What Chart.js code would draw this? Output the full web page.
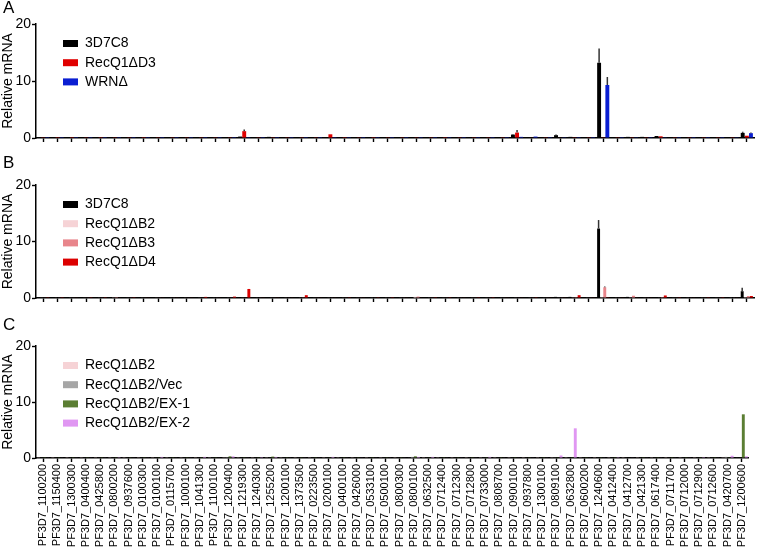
<!DOCTYPE html>
<html>
<head>
<meta charset="utf-8">
<script src="https://cdn.jsdelivr.net/npm/chart.js@4.4.1/dist/chart.umd.min.js"></script>
<style>
  html, body { margin: 0; padding: 0; background: #fff; }
  #wrap { position: relative; width: 757px; height: 553px; }
  canvas { position: absolute; left: 0; }
</style>
</head>
<body>
<div id="wrap">
  <canvas id="chartA" width="757" height="150" style="top:0"></canvas>
  <canvas id="chartB" width="757" height="160" style="top:150px"></canvas>
  <canvas id="chartC" width="757" height="243" style="top:310px"></canvas>
</div>
<script>
// genes on the x axis (shared by all three panels)
const genes = [
  "PF3D7_1100200", "PF3D7_1150400", "PF3D7_1300300", "PF3D7_0400400", "PF3D7_0425800",
  "PF3D7_0800200", "PF3D7_0937600", "PF3D7_0100300", "PF3D7_0100100", "PF3D7_0115700",
  "PF3D7_1000100", "PF3D7_1041300", "PF3D7_1100100", "PF3D7_1200400", "PF3D7_1219300",
  "PF3D7_1240300", "PF3D7_1255200", "PF3D7_1200100", "PF3D7_1373500", "PF3D7_0223500",
  "PF3D7_0200100", "PF3D7_0400100", "PF3D7_0426000", "PF3D7_0533100", "PF3D7_0500100",
  "PF3D7_0800300", "PF3D7_0800100", "PF3D7_0632500", "PF3D7_0712400", "PF3D7_0712300",
  "PF3D7_0712800", "PF3D7_0733000", "PF3D7_0808700", "PF3D7_0900100", "PF3D7_0937800",
  "PF3D7_1300100", "PF3D7_0809100", "PF3D7_0632800", "PF3D7_0600200", "PF3D7_1240600",
  "PF3D7_0412400", "PF3D7_0412700", "PF3D7_0421300", "PF3D7_0617400", "PF3D7_0711700",
  "PF3D7_0712000", "PF3D7_0712900", "PF3D7_0712600", "PF3D7_0420700", "PF3D7_1200600"
];
const yTicks = [0, 10, 20];

// Panel A
const a3D7C8 = [
  0.05, 0.05, 0.05, 0.05, 0.05, 0.05, 0.08, 0.05, 0.08, 0.05,
  0.08, 0.05, 0.08, 0.15, 0.25, 0.05, 0.2, 0.05, 0.08, 0.15,
  0.05, 0.05, 0.05, 0.15, 0.05, 0.05, 0.08, 0.15, 0.05, 0.05,
  0.05, 0.05, 0.05, 0.6, 0.1, 0.05, 0.5, 0.2, 0.05, 13.2,
  0.08, 0.2, 0.2, 0.35, 0.05, 0.05, 0.05, 0.05, 0.1, 0.9
];
const aRecQ1D3 = [
  0.05, 0.03, 0.03, 0.05, 0.03, 0.05, 0.05, 0.03, 0.05, 0.05,
  0.05, 0.05, 0.05, 0.05, 1.2, 0.05, 0.05, 0.05, 0.05, 0.05,
  0.65, 0.03, 0.05, 0.03, 0.05, 0.05, 0.05, 0.05, 0.03, 0.05,
  0.05, 0.05, 0.05, 0.95, 0.1, 0.05, 0.08, 0.05, 0.05, 0.05,
  0.05, 0.05, 0.05, 0.3, 0.05, 0.05, 0.05, 0.05, 0.05, 0.4
];
const aWRN = [
  0.03, 0.03, 0.03, 0.03, 0.03, 0.03, 0.03, 0.03, 0.03, 0.03,
  0.03, 0.03, 0.03, 0.03, 0.03, 0.03, 0.03, 0.03, 0.03, 0.03,
  0.03, 0.03, 0.03, 0.03, 0.03, 0.03, 0.03, 0.03, 0.03, 0.03,
  0.03, 0.03, 0.03, 0.2, 0.25, 0.03, 0.05, 0.03, 0.03, 9.3,
  0.03, 0.05, 0.03, 0.05, 0.03, 0.03, 0.03, 0.03, 0.05, 0.85
];
const aErr3D7C8 = [
  0, 0, 0, 0, 0, 0, 0, 0, 0, 0,
  0, 0, 0, 0, 0, 0, 0, 0, 0, 0,
  0, 0, 0, 0, 0, 0, 0, 0, 0, 0,
  0, 0, 0, 0.1, 0, 0, 0.1, 0, 0, 2.5,
  0, 0, 0, 0, 0, 0, 0, 0, 0, 0.2
];
const aErrRecQ1D3 = [
  0, 0, 0, 0, 0, 0, 0, 0, 0, 0,
  0, 0, 0, 0, 0.3, 0, 0, 0, 0, 0,
  0, 0, 0, 0, 0, 0, 0, 0, 0, 0,
  0, 0, 0, 0.45, 0, 0, 0, 0, 0, 0,
  0, 0, 0, 0, 0, 0, 0, 0, 0, 0
];
const aErrWRN = [
  0, 0, 0, 0, 0, 0, 0, 0, 0, 0,
  0, 0, 0, 0, 0, 0, 0, 0, 0, 0,
  0, 0, 0, 0, 0, 0, 0, 0, 0, 0,
  0, 0, 0, 0, 0, 0, 0, 0, 0, 1.4,
  0, 0, 0, 0, 0, 0, 0, 0, 0, 0.1
];

// Panel B
const b3D7C8 = [
  0.05, 0.05, 0.05, 0.05, 0.05, 0.05, 0.05, 0.05, 0.05, 0.05,
  0.05, 0.05, 0.05, 0.15, 0.05, 0.05, 0.05, 0.05, 0.05, 0.05,
  0.05, 0.05, 0.05, 0.05, 0.05, 0.05, 0.05, 0.05, 0.05, 0.05,
  0.05, 0.05, 0.05, 0.05, 0.05, 0.05, 0.2, 0.2, 0.05, 12.3,
  0.05, 0.2, 0.05, 0.05, 0.05, 0.1, 0.05, 0.05, 0.05, 1.2
];
const bRecQ1B2 = [
  0.1, 0.08, 0.1, 0.08, 0.1, 0.12, 0.08, 0.1, 0.1, 0.08,
  0.1, 0.1, 0.08, 0.1, 0.1, 0.08, 0.1, 0.1, 0.1, 0.08,
  0.1, 0.1, 0.08, 0.1, 0.1, 0.1, 0.2, 0.1, 0.08, 0.1,
  0.1, 0.08, 0.1, 0.1, 0.1, 0.08, 0.1, 0.12, 0.1, 0.15,
  0.1, 0.12, 0.1, 0.1, 0.08, 0.1, 0.1, 0.08, 0.1, 0.15
];
const bRecQ1B3 = [
  0.08, 0.1, 0.08, 0.1, 0.08, 0.15, 0.1, 0.08, 0.1, 0.1,
  0.08, 0.1, 0.1, 0.08, 0.1, 0.1, 0.08, 0.1, 0.12, 0.1,
  0.08, 0.1, 0.1, 0.08, 0.1, 0.1, 0.25, 0.1, 0.1, 0.08,
  0.1, 0.1, 0.08, 0.1, 0.1, 0.1, 0.1, 0.15, 0.1, 1.9,
  0.1, 0.4, 0.1, 0.15, 0.1, 0.08, 0.1, 0.1, 0.1, 0.35
];
const bRecQ1D4 = [
  0.05, 0.05, 0.08, 0.05, 0.05, 0.08, 0.05, 0.08, 0.08, 0.1,
  0.08, 0.2, 0.08, 0.25, 1.6, 0.08, 0.1, 0.08, 0.5, 0.08,
  0.08, 0.05, 0.08, 0.05, 0.05, 0.08, 0.08, 0.05, 0.05, 0.08,
  0.05, 0.05, 0.08, 0.08, 0.05, 0.08, 0.1, 0.5, 0.08, 0.05,
  0.08, 0.1, 0.08, 0.45, 0.05, 0.08, 0.05, 0.05, 0.08, 0.35
];
const bErr3D7C8 = [
  0, 0, 0, 0, 0, 0, 0, 0, 0, 0,
  0, 0, 0, 0, 0, 0, 0, 0, 0, 0,
  0, 0, 0, 0, 0, 0, 0, 0, 0, 0,
  0, 0, 0, 0, 0, 0, 0, 0, 0, 1.5,
  0, 0, 0, 0, 0, 0, 0, 0, 0, 0.6
];
const bErrRecQ1B3 = [
  0, 0, 0, 0, 0, 0, 0, 0, 0, 0,
  0, 0, 0, 0, 0, 0, 0, 0, 0, 0,
  0, 0, 0, 0, 0, 0, 0, 0, 0, 0,
  0, 0, 0, 0, 0, 0, 0, 0, 0, 0.15,
  0, 0, 0, 0, 0, 0, 0, 0, 0, 0
];

// Panel C
const cRecQ1B2 = [
  0.05, 0.05, 0.05, 0.05, 0.05, 0.05, 0.05, 0.05, 0.05, 0.05,
  0.05, 0.05, 0.05, 0.05, 0.05, 0.05, 0.05, 0.05, 0.05, 0.05,
  0.05, 0.05, 0.05, 0.05, 0.05, 0.05, 0.08, 0.05, 0.05, 0.05,
  0.05, 0.05, 0.05, 0.05, 0.05, 0.05, 0.05, 0.05, 0.05, 0.05,
  0.05, 0.05, 0.05, 0.05, 0.05, 0.05, 0.05, 0.05, 0.05, 0.08
];
const cVec = [
  0.08, 0.1, 0.08, 0.1, 0.08, 0.1, 0.08, 0.1, 0.1, 0.08,
  0.1, 0.08, 0.1, 0.15, 0.08, 0.1, 0.1, 0.08, 0.1, 0.08,
  0.1, 0.08, 0.1, 0.08, 0.1, 0.08, 0.2, 0.1, 0.08, 0.1,
  0.08, 0.1, 0.08, 0.1, 0.08, 0.1, 0.12, 0.1, 0.08, 0.1,
  0.08, 0.1, 0.08, 0.1, 0.08, 0.1, 0.08, 0.1, 0.2, 0.1
];
const cEX1 = [
  0.05, 0.05, 0.05, 0.05, 0.05, 0.05, 0.05, 0.05, 0.05, 0.05,
  0.05, 0.05, 0.05, 0.3, 0.05, 0.05, 0.25, 0.05, 0.05, 0.05,
  0.05, 0.05, 0.05, 0.05, 0.05, 0.05, 0.3, 0.05, 0.05, 0.05,
  0.05, 0.05, 0.05, 0.05, 0.05, 0.05, 0.05, 0.05, 0.05, 0.05,
  0.05, 0.08, 0.05, 0.05, 0.05, 0.05, 0.05, 0.05, 0.05, 7.8
];
const cEX2 = [
  0.08, 0.08, 0.1, 0.08, 0.1, 0.15, 0.08, 0.1, 0.2, 0.08,
  0.1, 0.2, 0.08, 0.3, 0.1, 0.15, 0.2, 0.08, 0.1, 0.08,
  0.2, 0.08, 0.1, 0.08, 0.1, 0.08, 0.2, 0.2, 0.08, 0.1,
  0.08, 0.2, 0.08, 0.1, 0.08, 0.1, 0.45, 5.3, 0.08, 0.1,
  0.15, 0.1, 0.08, 0.1, 0.08, 0.1, 0.15, 0.08, 0.4, 0.3
];

// draws vertical error bars (mean + SD) on top of the bars
const errorBars = {
  id: 'errorBars',
  afterDatasetsDraw(chart) {
    const ctx = chart.ctx;
    const y = chart.scales.y;
    chart.data.datasets.forEach((ds, di) => {
      if (!ds.errors) return;
      const meta = chart.getDatasetMeta(di);
      meta.data.forEach((bar, i) => {
        const e = ds.errors[i];
        if (!e) return;
        const top = y.getPixelForValue(ds.data[i] + e);
        ctx.save();
        ctx.strokeStyle = '#333';
        ctx.lineWidth = 1.5;
        ctx.beginPath();
        ctx.moveTo(bar.x, bar.y);
        ctx.lineTo(bar.x, top);
        ctx.stroke();
        ctx.restore();
      });
    });
  }
};

// panel letter + legend inside the plot
const panelDecor = {
  id: 'panelDecor',
  afterDraw(chart, args, opts) {
    const ctx = chart.ctx;
    const area = chart.chartArea;
    ctx.save();
    ctx.fillStyle = '#000';
    ctx.font = '17px "Liberation Sans", Arial, sans-serif';
    ctx.textBaseline = 'top';
    ctx.fillText(opts.letter, 3, opts.letterY);
    ctx.font = '14px "Liberation Sans", Arial, sans-serif';
    ctx.textBaseline = 'middle';
    chart.data.datasets.forEach((ds, i) => {
      const yy = area.top + 19.5 + i * 19.2;
      ctx.fillStyle = ds.backgroundColor;
      ctx.fillRect(63, yy - 3.5, 15, 7);
      ctx.fillStyle = '#000';
      ctx.fillText(ds.label, 85, yy);
    });
    ctx.restore();
  }
};

Chart.defaults.font.family = '"Liberation Sans", Arial, sans-serif';
Chart.defaults.color = '#000';

function makeChart(id, datasets, letter, letterY, topPad, xHeight, showLabels) {
  return new Chart(document.getElementById(id), {
    type: 'bar',
    data: {
      labels: genes,
      datasets: datasets.map(d => ({
        label: d.label,
        data: d.data,
        errors: d.errors,
        backgroundColor: d.color,
        borderWidth: 0,
        categoryPercentage: 0.86,
        barPercentage: 0.95
      }))
    },
    options: {
      responsive: false,
      animation: false,
      devicePixelRatio: 1,
      layout: { padding: { top: topPad, right: 3, bottom: 0, left: 0 } },
      plugins: {
        legend: { display: false },
        tooltip: { enabled: false },
        panelDecor: { letter: letter, letterY: letterY }
      },
      scales: {
        x: {
          grid: { display: true, drawOnChartArea: false, offset: false, tickLength: 4, tickColor: '#000', tickWidth: 1.4 },
          border: { color: '#000', width: 1.5 },
          ticks: {
            display: showLabels, autoSkip: false, minRotation: 90, maxRotation: 90,
            font: { size: 11 }, color: '#000', padding: 2
          },
          afterFit: s => { s.height = xHeight; }
        },
        y: {
          min: 0,
          max: 20,
          afterBuildTicks: s => { s.ticks = yTicks.map(v => ({ value: v })); },
          ticks: { font: { size: 14 }, color: '#000', padding: 1 },
          grid: { drawOnChartArea: false, tickLength: 4, tickColor: '#000', tickWidth: 1.4 },
          border: { color: '#000', width: 1.5 },
          title: { display: true, text: 'Relative mRNA', font: { size: 14 }, color: '#000', padding: 0 },
          afterFit: s => { s.width = 36; }
        }
      }
    },
    plugins: [errorBars, panelDecor]
  });
}

makeChart('chartA', [
  { label: '3D7C8', data: a3D7C8, errors: aErr3D7C8, color: '#000000' },
  { label: 'RecQ1\u0394D3', data: aRecQ1D3, errors: aErrRecQ1D3, color: '#E00000' },
  { label: 'WRN\u0394', data: aWRN, errors: aErrWRN, color: '#0A1ED2' }
], 'A', 0, 24, 12, false);

makeChart('chartB', [
  { label: '3D7C8', data: b3D7C8, errors: bErr3D7C8, color: '#000000' },
  { label: 'RecQ1\u0394B2', data: bRecQ1B2, color: '#F6D3D6' },
  { label: 'RecQ1\u0394B3', data: bRecQ1B3, errors: bErrRecQ1B3, color: '#E8858B' },
  { label: 'RecQ1\u0394D4', data: bRecQ1D4, color: '#DC0000' }
], 'B', 5, 35, 12, false);

makeChart('chartC', [
  { label: 'RecQ1\u0394B2', data: cRecQ1B2, color: '#F6D3D6' },
  { label: 'RecQ1\u0394B2/Vec', data: cVec, color: '#A6A6A6' },
  { label: 'RecQ1\u0394B2/EX-1', data: cEX1, color: '#5B7E33' },
  { label: 'RecQ1\u0394B2/EX-2', data: cEX2, color: '#E097F2' }
], 'C', 7, 36, 95, true);
</script>
</body>
</html>
